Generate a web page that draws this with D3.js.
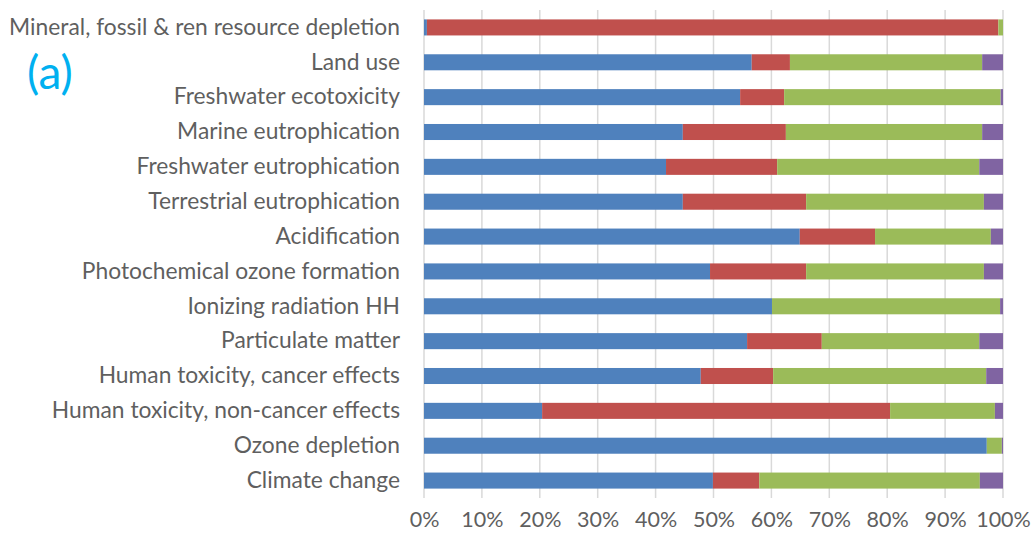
<!DOCTYPE html>
<html>
<head>
<meta charset="utf-8">
<script src="https://cdn.jsdelivr.net/npm/d3@7"></script>
<style>
  body { margin: 0; background: #fff; }
  text { font-family: Lato, "Open Sans", sans-serif; }
</style>
</head>
<body>
<script>
(function(d3) {
    'use strict';

    // categories, top to bottom
    var categories = [
        'Mineral, fossil & ren resource depletion',
        'Land use',
        'Freshwater ecotoxicity',
        'Marine eutrophication',
        'Freshwater eutrophication',
        'Terrestrial eutrophication',
        'Acidification',
        'Photochemical ozone formation',
        'Ionizing radiation HH',
        'Particulate matter',
        'Human toxicity, cancer effects',
        'Human toxicity, non-cancer effects',
        'Ozone depletion',
        'Climate change'
    ];

    // shares (%) of each series per category
    var blue   = [0.5, 56.6, 54.6, 44.7, 41.8, 44.7, 64.9, 49.4, 60.1, 55.8, 47.8, 20.4, 97.2, 49.9];
    var red    = [98.7, 6.6, 7.6, 17.8, 19.2, 21.3, 13.0, 16.6, 0.0, 12.9, 12.5, 60.1, 0.0, 8.0];
    var green  = [0.8, 33.2, 37.4, 33.9, 34.9, 30.7, 20.0, 30.7, 39.4, 27.2, 36.8, 18.1, 2.6, 38.1];
    var purple = [0.0, 3.6, 0.4, 3.6, 4.1, 3.3, 2.1, 3.3, 0.5, 4.1, 2.9, 1.4, 0.2, 4.0];

    var tickValues = [0, 10, 20, 30, 40, 50, 60, 70, 80, 90, 100];
    var seriesColors = ['#4F81BD', '#C0504D', '#9BBB59', '#8064A2'];

    var settings = {
        width: 1035,
        height: 541,
        left: 424,
        right: 1003,
        top: 10,
        plotBottom: 498
    };

    var rows = categories.map(function(c, i) {
        return { name: c, values: [blue[i], red[i], green[i], purple[i]] };
    });

    var svg = d3.select('body')
        .append('svg')
        .attr('width', settings.width)
        .attr('height', settings.height);

    var x = d3.scaleLinear()
        .domain([0, 100])
        .range([settings.left, settings.right]);

    var y = d3.scaleBand()
        .domain(categories)
        .range([settings.top, settings.plotBottom])
        .paddingInner(0.54)
        .paddingOuter(0.27);

    // gridlines
    svg.append('g')
        .selectAll('line')
        .data(tickValues)
        .enter()
        .append('line')
        .attr('x1', function(d) { return x(d); })
        .attr('x2', function(d) { return x(d); })
        .attr('y1', settings.top)
        .attr('y2', settings.plotBottom)
        .attr('stroke', '#d9d9d9')
        .attr('stroke-width', 1.5);

    // stacked bars
    var bar = svg.selectAll('g.bar')
        .data(rows)
        .enter()
        .append('g')
        .attr('class', 'bar')
        .attr('transform', function(d) {
            return 'translate(0, ' + y(d.name) + ')';
        });

    bar.selectAll('rect')
        .data(function(d) {
            var acc = 0;
            return d.values.map(function(v, k) {
                var seg = { start: acc, end: acc + v, k: k };
                acc += v;
                return seg;
            });
        })
        .enter()
        .append('rect')
        .attr('x', function(d) { return x(d.start); })
        .attr('width', function(d) { return Math.max(0, x(d.end) - x(d.start)); })
        .attr('y', 0)
        .attr('height', y.bandwidth())
        .attr('fill', function(d) { return seriesColors[d.k]; });

    // category labels
    var yAxis = d3.axisLeft(y).tickSize(0).tickPadding(24);
    svg.append('g')
        .attr('transform', 'translate(' + settings.left + ', 0)')
        .call(yAxis)
        .call(function(g) { g.select('.domain').remove(); })
        .selectAll('text')
        .attr('font-family', 'Lato, sans-serif')
        .attr('font-size', 22.8)
        .attr('fill', '#5f5f5f');

    // percent axis
    var xAxis = d3.axisBottom(x)
        .tickValues(tickValues)
        .tickSize(0)
        .tickPadding(14)
        .tickFormat(function(d) { return d + '%'; });
    svg.append('g')
        .attr('transform', 'translate(0, ' + settings.plotBottom + ')')
        .call(xAxis)
        .call(function(g) { g.select('.domain').remove(); })
        .selectAll('text')
        .attr('font-family', 'Lato, sans-serif')
        .attr('font-size', 21.5)
        .attr('fill', '#5f5f5f');

    // panel tag
    svg.append('text')
        .attr('x', 27)
        .attr('y', 89)
        .attr('font-family', 'Lato, sans-serif')
        .attr('font-size', 46)
        .attr('fill', '#00B0F0')
        .text('(a)');

})(window.d3);
</script>
</body>
</html>
